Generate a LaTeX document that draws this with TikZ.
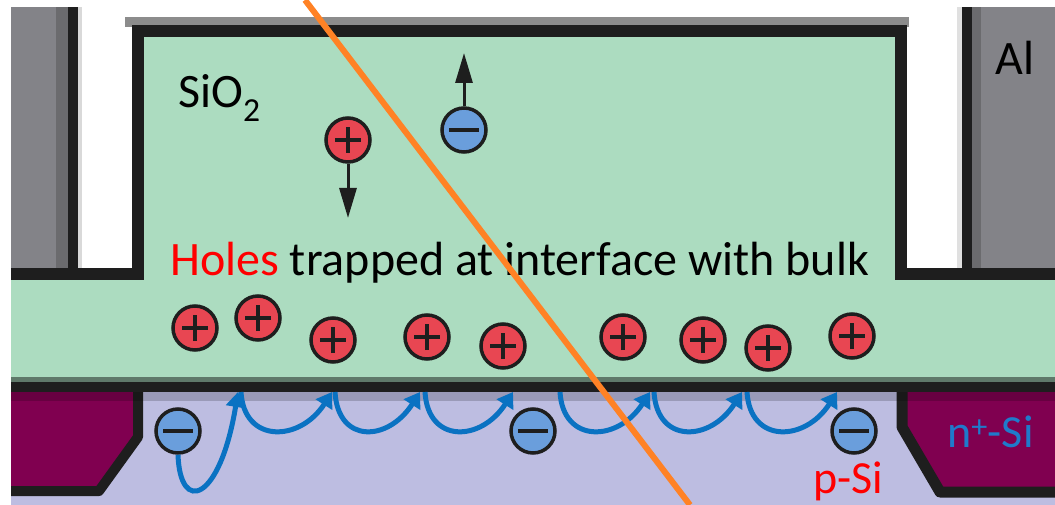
\documentclass[tikz,border=0pt]{standalone}
\usepackage{fontspec}
\setmainfont{Carlito}
\usetikzlibrary{arrows.meta}

\definecolor{oxide}{HTML}{ACDCC0}
\definecolor{psi}{HTML}{BDBDE1}
\definecolor{nsi}{HTML}{800050}
\definecolor{alu}{HTML}{838388}
\definecolor{aludark}{HTML}{6B6B6E}
\definecolor{edge}{HTML}{1E1E1E}
\definecolor{holered}{HTML}{E84652}
\definecolor{elecblue}{HTML}{6A9EDC}
\definecolor{hopblue}{HTML}{0A72C2}
\definecolor{track}{HTML}{FF8225}
\definecolor{nlabel}{HTML}{1F7ACB}

\tikzset{
  charge/.style={circle, draw=edge, line width=3.5pt, minimum size=44pt, inner sep=0pt},
  hole/.style={charge, fill=holered, path picture={
      \draw[edge, line width=3.5pt] ([xshift=-13pt]path picture bounding box.center) -- ([xshift=13pt]path picture bounding box.center);
      \draw[edge, line width=3.5pt] ([yshift=-13pt]path picture bounding box.center) -- ([yshift=13pt]path picture bounding box.center);}},
  electron/.style={charge, fill=elecblue, path picture={
      \draw[edge, line width=4pt] ([xshift=-15pt]path picture bounding box.center) -- ([xshift=15pt]path picture bounding box.center);}},
  hop/.style={hopblue, line width=5pt, -{Triangle[length=15pt,width=19pt]}},
  drift/.style={edge, line width=3pt, -{Triangle[length=30pt,width=17pt]}},
  txt/.style={anchor=base west, inner sep=0pt, font=\fontsize{48pt}{56pt}\selectfont},
}

\begin{document}
\begin{tikzpicture}[x=1pt, y=-1pt]
\useasboundingbox (0,0) rectangle (1055,505);
\fill[white] (0,0) rectangle (1055,505);

% aluminium contacts
\fill[alu] (11,7) rectangle (68,270);
\fill[aludark] (56,7) rectangle (68,270);
\fill[edge] (68,7) rectangle (78,270);
\fill[black!15] (78,7) rectangle (82,270);
\fill[black!12] (957,7) rectangle (962,270);
\fill[edge] (962,7) rectangle (972,270);
\fill[aludark] (972,7) rectangle (981,270);
\fill[alu] (981,7) rectangle (1055,270);

% substrate and implants
\fill[psi] (11,382) rectangle (1055,505);
\fill[nsi] (11,387) -- (138,387) -- (138,437) -- (99,491) -- (11,491) -- cycle;
\draw[edge, line width=10pt, line join=round] (11,491) -- (99,491) -- (138,437) -- (138,387);
\fill[nsi] (902,387) -- (1055,387) -- (1055,492) -- (940,492) -- (902,427) -- cycle;
\draw[edge, line width=11pt, line join=round] (1055,492) -- (940,492) -- (902,427) -- (902,387);

% oxide
\fill[black!45] (125,17) rectangle (909,27);
\fill[oxide] (11,274) -- (138,274) -- (138,31) -- (901,31) -- (901,274) -- (1055,274) -- (1055,380) -- (11,380) -- cycle;
\draw[edge, line width=12pt] (11,274) -- (138,274) -- (138,31) -- (901,31) -- (901,274) -- (1055,274);
\fill[black!45!oxide] (11,377) rectangle (1055,382);
\fill[edge] (11,382) rectangle (1055,392);
\fill[black, opacity=0.18] (11,392) rectangle (1055,401);

\node[txt] (oxlabel) at (178,108) {SiO\textsubscript{2}};
\node[txt] (trap) at (170,275) {\textcolor{red}{Holes} trapped at interface with bulk};
\node[txt] (allabel) at (995,75) {Al};
\node[txt, nlabel, font=\fontsize{46pt}{54pt}\selectfont] (nlab) at (947,447) {n\textsuperscript{+}-Si};
\node[txt, red, font=\fontsize{46pt}{54pt}\selectfont] (plab) at (813,493) {p-Si};

% charges
\foreach \x/\y [count=\i] in {195/328, 258/318, 333/340, 427/337, 503/346, 623/337, 703/340, 768/348, 852/336}
  \node[hole] (hole\i) at (\x,\y) {};
\node[hole] (hox) at (348,140) {};
\node[electron] (eox) at (464,130) {};
\node[electron] (e1) at (178,431) {};
\node[electron] (e2) at (533,431) {};
\node[electron] (e3) at (854,431) {};

\coordinate (hoxend) at (348,218);
\coordinate (eoxend) at (464,53);
\draw[drift] (hox.south) -- (hoxend);
\draw[drift] (eox.north) -- (eoxend);

% hopping along the interface
\coordinate (to0) at (238,392);
\draw[hop] (e1.south) .. controls +(2,60) and +(-18,110) .. (to0);
\foreach \i/\a/\b in {1/241/332, 2/335/420, 3/425/513, 4/560/650, 5/654/742, 6/747/837} {
  \coordinate (from\i) at (\a,392);
  \coordinate (to\i) at (\b,392);
  \draw[hop] (from\i) .. controls +(3,52) and +(-32,50) .. (to\i);
}

% particle track
\coordinate (trackin) at (305,0);
\coordinate (trackout) at (690,505);
\draw[track, line width=6pt] (trackin) -- (trackout);
\end{tikzpicture}
\end{document}
